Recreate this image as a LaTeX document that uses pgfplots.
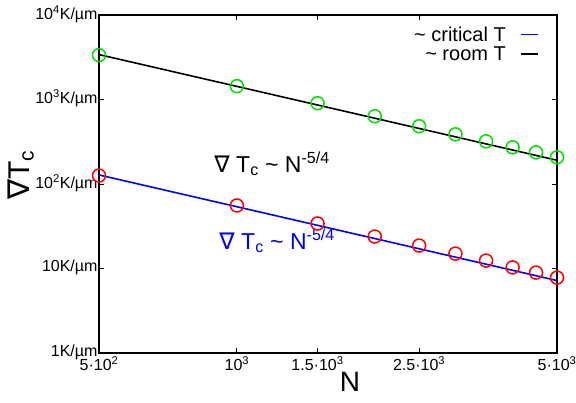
\documentclass[border=0pt]{standalone}
\usepackage{fontspec}
\setmainfont{Liberation Sans}
\newfontfamily\dejavu{DejaVu Sans}
\usepackage{pgfplots}
\pgfplotsset{compat=1.18}
\definecolor{mygreen}{RGB}{0,225,0}
\definecolor{myblue}{RGB}{0,0,255}
\definecolor{myred}{RGB}{255,0,0}
\begin{document}
\begin{tikzpicture}
\path[use as bounding box] (-99bp,-50bp) rectangle (477bp,353bp);
\begin{axis}[
  at={(0,0)}, anchor=south west,
  scale only axis, width=458bp, height=338bp,
  xmode=log, ymode=log,
  xmin=500, xmax=5000, ymin=1, ymax=10000,
  clip=false,
  axis line style={line width=1.3bp},
  tick style={line width=0.8bp, black},
  major tick length=5bp, minor tick length=0pt,
  tick align=inside,
  xtick={500,1000,1500,2500,5000},
  xticklabels={5·10\textsuperscript{2},10\textsuperscript{3},1.5·10\textsuperscript{3},2.5·10\textsuperscript{3},5·10\textsuperscript{3}},
  ytick={1,10,100,1000,10000},
  yticklabels={1K/µm,10K/µm,10\textsuperscript{2}K/µm,10\textsuperscript{3}K/µm,10\textsuperscript{4}K/µm},
  ticklabel style={font=\fontsize{16bp}{18bp}\selectfont},
  xticklabel style={yshift=0bp},
  yticklabel style={xshift=2bp, yshift=1bp},
  xlabel={N},
  xlabel style={font=\fontsize{28bp}{30bp}\selectfont, at={(axis description cs:0.548,-0.086)}, anchor=center},
  ylabel={{\dejavu ∇}T\textsubscript{c}},
  ylabel style={font=\fontsize{30bp}{32bp}\selectfont, at={(axis description cs:-0.17,0.527)}, anchor=center},
  legend style={draw=none, fill=none, at={(rel axis cs:0.962,0.975)}, anchor=north east,
    font=\fontsize{20bp}{22bp}\selectfont, row sep=0bp, column sep=12bp, inner sep=1bp},
  legend cell align=right,
  legend plot pos=right,
  legend image code/.code={\draw[#1] (0bp,0bp) -- (17bp,0bp);},
]
% fit lines
\addplot[myblue, line width=1.6bp, mark=none] coordinates {(500,128) (5000,7.2)};
\addlegendentry{\textasciitilde{} critical T}
\addplot[black, line width=1.6bp, mark=none] coordinates {(500,3400) (5000,191)};
\addlegendentry{\textasciitilde{} room T}
% data points
\addplot[only marks, mark=o, mark size=6.5bp, mark options={myred, line width=1.5bp}, forget plot] coordinates {
(500,126) (1000,55.7) (1500,34.1) (2000,23.9) (2500,18.7) (3000,15.0) (3500,12.4) (4000,10.3) (4500,8.94) (5000,7.80)};
\addplot[only marks, mark=o, mark size=6.5bp, mark options={mygreen, line width=1.5bp}, forget plot] coordinates {
(500,3354) (1000,1438) (1500,904) (2000,634) (2500,482) (3000,387) (3500,320) (4000,272) (4500,237) (5000,207)};
\node[font=\fontsize{23bp}{25bp}\selectfont, black] at (rel axis cs:0.378,0.56) {{\dejavu ∇} T\textsubscript{c} \textasciitilde{} N\textsuperscript{-5/4}};
\node[font=\fontsize{23bp}{25bp}\selectfont, myblue] at (rel axis cs:0.389,0.332) {{\dejavu ∇} T\textsubscript{c} \textasciitilde{} N\textsuperscript{-5/4}};
\end{axis}
\end{tikzpicture}
\end{document}
